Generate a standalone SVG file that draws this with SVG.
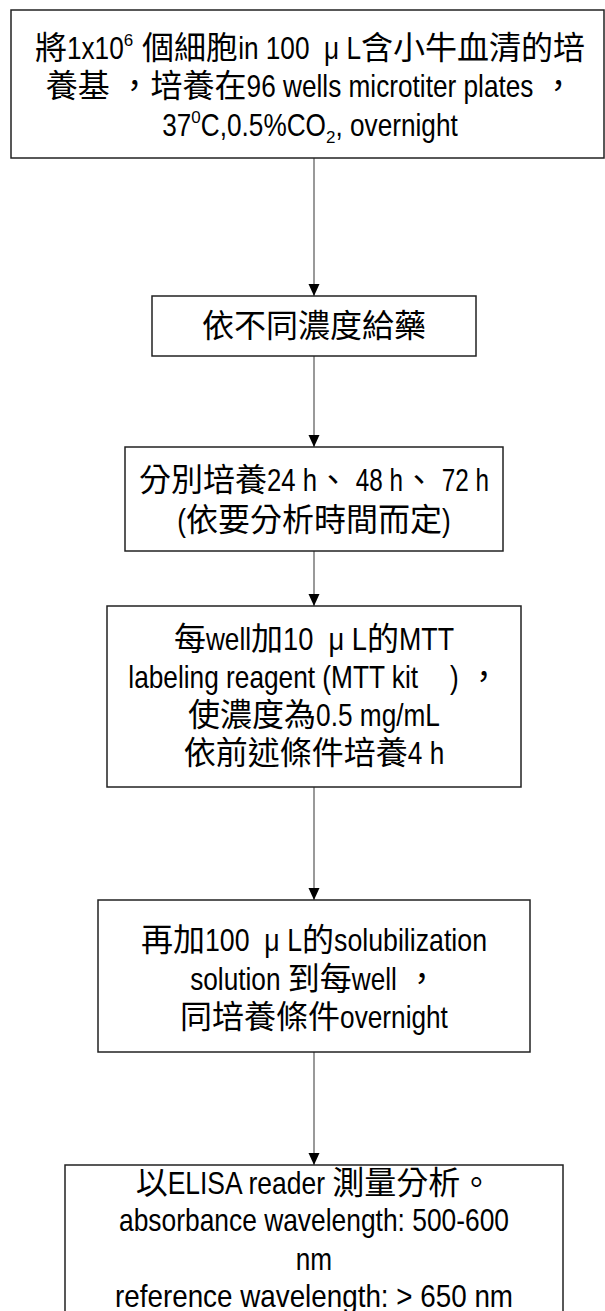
<svg xmlns="http://www.w3.org/2000/svg" width="605" height="1311" viewBox="0 0 605 1311" xml:lang="zh-Hant-TW" lang="zh-Hant-TW">
<defs>
<style>
.box{fill:#fff;stroke:#222;stroke-width:1.5}
.t{font-family:"Liberation Sans","Noto Sans CJK TC",sans-serif;font-size:32px;fill:#000;text-anchor:middle}
.c{stroke:#555;stroke-width:1.2;fill:none;marker-end:url(#arr)}
</style>
<marker id="arr" viewBox="0 0 12 12" refX="12" refY="6" markerWidth="12" markerHeight="12" markerUnits="userSpaceOnUse" orient="auto">
<path d="M0,0.5 L12,6 L0,11.5 z" fill="#000"/>
</marker>
</defs>
<rect width="605" height="1311" fill="#fff"/>
<g id="connectors">
<line class="c" x1="314" y1="158" x2="314" y2="296"/>
<line class="c" x1="314" y1="356" x2="314" y2="447"/>
<line class="c" x1="314" y1="551" x2="314" y2="606"/>
<line class="c" x1="314" y1="787" x2="314" y2="900"/>
<line class="c" x1="314" y1="1052" x2="314" y2="1165"/>
</g>
<g id="n1">
<rect class="box" x="11" y="10" width="593" height="148"/>
<text class="t" x="310" y="59" xml:space="preserve">將<tspan textLength="56.8" lengthAdjust="spacingAndGlyphs">1x10</tspan><tspan font-size="17" dy="-13">6</tspan><tspan dy="13"> 個細胞</tspan><tspan textLength="122.9" lengthAdjust="spacingAndGlyphs">in 100  μ L</tspan>含小牛血清的培</text>
<text class="t" x="310" y="97" xml:space="preserve">養基 ，培養在<tspan textLength="286.8" lengthAdjust="spacingAndGlyphs">96 wells microtiter plates</tspan> ，</text>
<text class="t" x="310" y="136"><tspan textLength="29.1" lengthAdjust="spacingAndGlyphs">37</tspan><tspan font-size="17" dy="-13">0</tspan><tspan dy="13" textLength="125.2" lengthAdjust="spacingAndGlyphs">C,0.5%CO</tspan><tspan font-size="17" dy="7">2</tspan><tspan dy="-7" textLength="122.3" lengthAdjust="spacingAndGlyphs">, overnight</tspan></text>
</g>
<g id="n2">
<rect class="box" x="152" y="296" width="324" height="60"/>
<text class="t" x="314" y="337">依不同濃度給藥</text>
</g>
<g id="n3">
<rect class="box" x="125" y="447" width="378" height="104"/>
<text class="t" x="314" y="491" xml:space="preserve">分別培養<tspan textLength="50" lengthAdjust="spacingAndGlyphs">24 h</tspan>、<tspan textLength="54" lengthAdjust="spacingAndGlyphs"> 48 h</tspan>、<tspan textLength="54" lengthAdjust="spacingAndGlyphs"> 72 h</tspan></text>
<text class="t" x="314" y="531"><tspan textLength="8.7" lengthAdjust="spacingAndGlyphs">(</tspan>依要分析時間而定<tspan textLength="8.7" lengthAdjust="spacingAndGlyphs">)</tspan></text>
</g>
<g id="n4">
<rect class="box" x="107" y="606" width="414" height="181"/>
<text class="t" x="314" y="650" xml:space="preserve">每<tspan textLength="45.1" lengthAdjust="spacingAndGlyphs">well</tspan>加<tspan textLength="84" lengthAdjust="spacingAndGlyphs">10  μ L</tspan>的<tspan textLength="55" lengthAdjust="spacingAndGlyphs">MTT</tspan></text>
<text class="t" x="314" y="688" xml:space="preserve"><tspan textLength="289.7" lengthAdjust="spacingAndGlyphs">labeling reagent (MTT kit</tspan>　<tspan textLength="8.7" lengthAdjust="spacingAndGlyphs">)</tspan> ，</text>
<text class="t" x="314" y="726" xml:space="preserve">使濃度為<tspan textLength="123.8" lengthAdjust="spacingAndGlyphs">0.5 mg/mL</tspan></text>
<text class="t" x="314" y="764" xml:space="preserve">依前述條件培養<tspan textLength="36.4" lengthAdjust="spacingAndGlyphs">4 h</tspan></text>
</g>
<g id="n5">
<rect class="box" x="98" y="900" width="432" height="152"/>
<text class="t" x="314" y="951" xml:space="preserve">再加<tspan textLength="97" lengthAdjust="spacingAndGlyphs">100  μ L</tspan>的<tspan textLength="153" lengthAdjust="spacingAndGlyphs">solubilization</tspan></text>
<text class="t" x="314" y="990" xml:space="preserve"><tspan textLength="97.6" lengthAdjust="spacingAndGlyphs">solution </tspan>到每<tspan textLength="45.1" lengthAdjust="spacingAndGlyphs">well</tspan> ，</text>
<text class="t" x="314" y="1028" xml:space="preserve">同培養條件<tspan textLength="107.8" lengthAdjust="spacingAndGlyphs">overnight</tspan></text>
</g>
<g id="n6">
<rect class="box" x="65" y="1165" width="498" height="160"/>
<text class="t" x="314" y="1194" xml:space="preserve">以<tspan textLength="164.6" lengthAdjust="spacingAndGlyphs">ELISA reader </tspan>測量分析。</text>
<text class="t" x="314" y="1231"><tspan textLength="390" lengthAdjust="spacingAndGlyphs">absorbance wavelength: 500-600</tspan></text>
<text class="t" x="314" y="1270"><tspan textLength="36.4" lengthAdjust="spacingAndGlyphs">nm</tspan></text>
<text class="t" x="314" y="1307"><tspan textLength="398" lengthAdjust="spacingAndGlyphs">reference wavelength: &gt; 650 nm</tspan></text>
</g>
</svg>
